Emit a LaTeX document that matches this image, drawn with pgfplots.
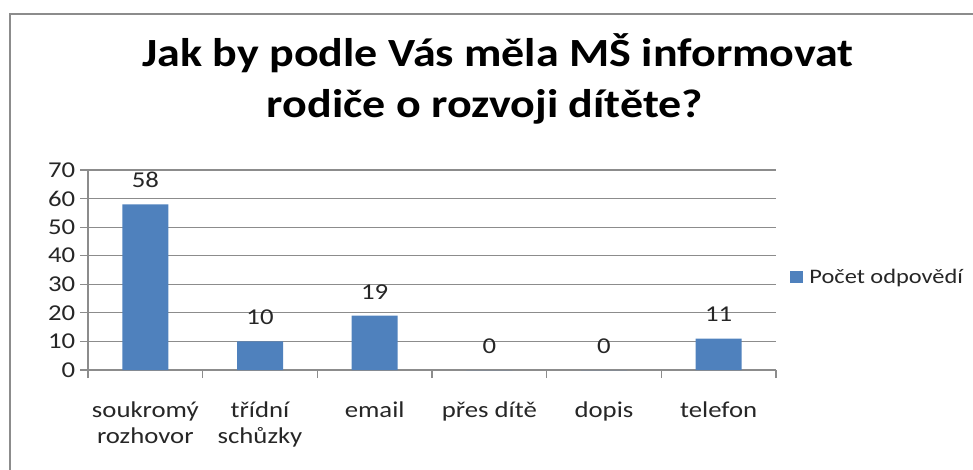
\documentclass[border=0pt]{standalone}
\usepackage{pgfplots}
\pgfplotsset{compat=1.18}
\usepackage{fontspec}
\setmainfont{Carlito}[FakeStretch=1.18]
\newfontfamily\titlefont{Carlito}[FakeStretch=1.15]
\definecolor{barblue}{HTML}{4F81BD}
\definecolor{gridgray}{HTML}{8C8C8C}
\definecolor{txt}{HTML}{262626}
\newcommand{\lbl}{\fontsize{17}{20}\selectfont}
\begin{document}
\begin{tikzpicture}
\useasboundingbox (0,0) rectangle (729.75pt,351.75pt);
\draw[gridgray, line width=1.5pt] (7.5pt,-20pt) -- (7.5pt,341.25pt) -- (740pt,341.25pt);
\node[font=\titlefont\fontsize{30}{36}\selectfont\bfseries, anchor=base] at (373.5pt,302.25pt) {Jak by podle Vás měla MŠ informovat};
\node[font=\titlefont\fontsize{30}{36}\selectfont\bfseries, anchor=base] at (363.75pt,264pt) {rodiče o rozvoji dítěte?};
\begin{axis}[
  at={(66pt,224.25pt)}, anchor=north west,
  scale only axis, width=516pt, height=150pt,
  xmin=-0.5, xmax=5.5, ymin=0, ymax=70,
  ytick={0,10,...,70},
  xtick={0,...,5},
  xticklabels={{soukromý\\rozhovor},{třídní\\schůzky},email,přes dítě,dopis,telefon},
  xticklabel style={align=center, font=\lbl, text=txt, yshift=-14pt},
  yticklabel style={font=\lbl, text=txt},
  /pgf/number format/assume math mode=true,
  minor xtick={-0.5,0.5,...,5.5},
  axis x line*=bottom, axis y line*=left,
  axis line style={gridgray, line width=0.9pt},
  ymajorgrids, grid style={gridgray, line width=0.9pt},
  tick align=outside, major tick length=6pt, minor tick length=6pt,
  major x tick style={draw=none},
  minor x tick style={gridgray, line width=0.9pt},
  major y tick style={gridgray, line width=0.9pt},
  legend style={at={(1.02,0.465)}, anchor=west, draw=none, fill=none, font=\fontsize{15.5}{19}\selectfont, text=txt, inner sep=0pt},
  legend image code/.code={\fill[barblue] (0pt,-4.8pt) rectangle (9.6pt,4.8pt);},
  nodes near coords,
  nodes near coords style={font=\lbl, text=txt, anchor=south, yshift=9pt, /pgf/number format/assume math mode=true},
]
\addplot[ybar, bar width=34.5pt, fill=barblue, draw=none]
  coordinates {(0,58) (1,10) (2,19) (3,0) (4,0) (5,11)};
\addlegendentry{\hspace{3pt}Počet odpovědí}
\end{axis}
\end{tikzpicture}
\end{document}
